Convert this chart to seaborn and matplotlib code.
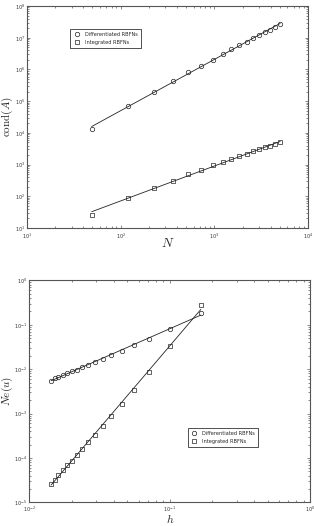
import numpy as np
import pandas as pd
import matplotlib
matplotlib.use("Agg")
import matplotlib.pyplot as plt
import seaborn as sns

# grid sizes 7, 11, ..., 71 -> N nodes and spacing h
grid_n = [7, 11, 15, 19, 23, 27, 31, 35, 39, 43, 47, 51, 55, 59, 63, 67, 71]
N_vals = [49, 121, 225, 361, 529, 729, 961, 1225, 1521, 1849, 2209, 2601, 3025, 3481, 3969, 4489, 5041]
h_vals = [1/6, 1/10, 1/14, 1/18, 1/22, 1/26, 1/30, 1/34, 1/38, 1/42, 1/46, 1/50, 1/54, 1/58, 1/62, 1/66, 1/70]

# condition numbers
cond_drbfn = [1.28e4, 6.8e4, 2.0e5, 4.36e5, 8.2e5, 1.32e6, 2.05e6, 3.08e6, 4.33e6,
              5.78e6, 7.54e6, 9.6e6, 1.19e7, 1.48e7, 1.80e7, 2.18e7, 2.65e7]
cond_irbfn = [26.4, 90, 187, 310, 490, 687, 942, 1200, 1455, 1808, 2143, 2596,
              3000, 3467, 3916, 4315, 4990]

# errors
ne_drbfn = [0.184, 0.080, 0.049, 0.0344, 0.026, 0.0208, 0.0172, 0.0145, 0.0126,
            0.011, 0.0097, 0.0089, 0.0080, 0.0074, 0.0068, 0.0062, 0.0053]
ne_irbfn = [0.283, 0.0338, 0.00877, 0.00333, 0.00161, 8.65e-4, 5.33e-4, 3.29e-4,
            2.29e-4, 1.62e-4, 1.15e-4, 8.7e-5, 6.8e-5, 5.26e-5, 4.13e-5, 3.24e-5, 2.63e-5]

labels = ["Differentiated RBFNs", "Integrated RBFNs"]

sns.set_style("ticks")
plt.rcParams["mathtext.fontset"] = "cm"
plt.rcParams["font.family"] = ["DejaVu Sans"]

fig = plt.figure(figsize=(3.14, 5.26), dpi=100)
ax1 = fig.add_axes([0.086, 0.5665, 0.895, 0.422])
ax2 = fig.add_axes([0.0935, 0.045, 0.894, 0.422])


def fit_line(x, y):
    # power law fit drawn between first and last point
    p = np.polyfit(np.log10(x), np.log10(y), 1)
    xx = np.array([min(x), max(x)])
    return xx, 10 ** np.polyval(p, np.log10(xx))


def draw(ax, x, ys):
    for y, m, lab in zip(ys, ["o", "s"], labels):
        xx, yy = fit_line(x, y)
        sns.lineplot(x=xx, y=yy, ax=ax, color="#222222", lw=0.6, legend=False)
        df = pd.DataFrame({"x": x, "y": y})
        ax.plot(df["x"], df["y"], ls="none", marker=m, ms=3.2 if m == "o" else 2.8,
                mfc="none", mec="#222222", mew=0.5, label=lab)
    ax.set_xscale("log")
    ax.set_yscale("log")
    ax.tick_params(which="both", direction="in", top=True, right=True,
                   labelsize=3.5, pad=1.5, width=0.4, colors="#333333")
    ax.tick_params(axis="x", pad=2.6)
    ax.tick_params(which="major", length=2.5)
    ax.tick_params(which="minor", length=1.3)
    for s in ax.spines.values():
        s.set_linewidth(0.8)
        s.set_color("#555555")


draw(ax1, N_vals, [cond_drbfn, cond_irbfn])
ax1.set_xlim(10, 1e4)
ax1.set_ylim(10, 1e8)
ax1.set_xlabel(r"$N$", fontsize=9.5)
ax1.set_ylabel(r"$\mathrm{cond}(A)$", fontsize=8)
ax1.xaxis.set_label_coords(0.5, -0.042)
ax1.yaxis.set_label_coords(-0.044, 0.5)
ax1.legend(loc="upper left", bbox_to_anchor=(0.145, 0.91), fontsize=3.6,
           frameon=True, fancybox=False, edgecolor="#333333", framealpha=1,
           handlelength=1.5, borderpad=0.6, labelspacing=0.6)
ax1.get_legend().get_frame().set_linewidth(0.6)

draw(ax2, h_vals, [ne_drbfn, ne_irbfn])
ax2.tick_params(axis="x", pad=1.8)
ax2.set_xlim(1e-2, 1)
ax2.set_ylim(1e-5, 1)
ax2.set_xlabel(r"$h$", fontsize=8.5)
ax2.set_ylabel(r"$Ne(u)$", fontsize=8)
ax2.xaxis.set_label_coords(0.5, -0.049)
ax2.yaxis.set_label_coords(-0.052, 0.5)
ax2.legend(loc="upper left", bbox_to_anchor=(0.555, 0.345), fontsize=3.6,
           frameon=True, fancybox=False, edgecolor="#333333", framealpha=1,
           handlelength=1.5, borderpad=0.6, labelspacing=0.6)
ax2.get_legend().get_frame().set_linewidth(0.6)

fig.savefig("out.png", dpi=100)
